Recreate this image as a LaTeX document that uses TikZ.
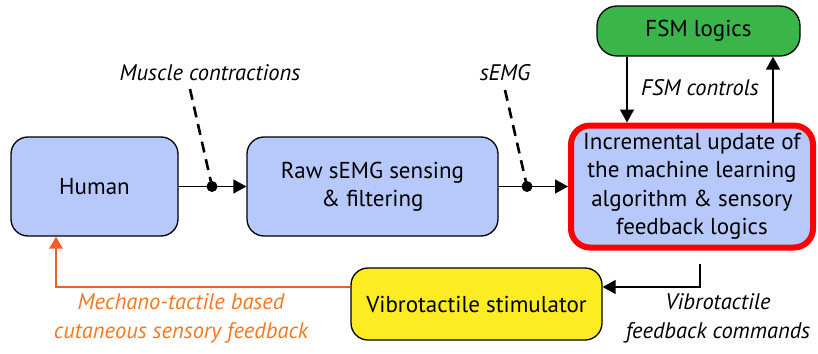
\documentclass[tikz,border=0pt]{standalone}
\usepackage{fontspec}
\setmainfont{PT Sans}
\usetikzlibrary{arrows.meta}
\definecolor{boxblue}{RGB}{183,201,250}
\definecolor{fsmgreen}{RGB}{58,181,74}
\definecolor{stimyellow}{RGB}{252,236,33}
\definecolor{fbred}{RGB}{255,0,0}
\definecolor{fborange}{RGB}{240,95,40}
\definecolor{txtorange}{RGB}{246,120,30}
\tikzset{
	blockbox/.style={draw=black, line width=1.3pt, rounded corners=17pt, inner sep=0pt, align=center,
		font=\fontsize{23}{28.5}\selectfont},
	sigtext/.style={font=\fontsize{22.5}{28.5}\selectfont\itshape, align=center, inner sep=0pt},
	arr/.style={line width=1.4pt, -{Triangle[length=13pt,width=14pt]}},
	sigdash/.style={line width=2.6pt, dash pattern=on 11pt off 7pt}
}
\begin{document}
\begin{tikzpicture}[x=1pt, y=-1pt]
		\useasboundingbox (0,0) rectangle (818,353);
		
		%Kaesten
		\node[blockbox, fill=boxblue, minimum width=167pt, minimum height=99pt] (human) at (94.5,186.5) {Human};
		\node[blockbox, fill=boxblue, minimum width=251pt, minimum height=99pt] (raw) at (372.5,186.5) {Raw sEMG sensing\\\& filtering};
		\node[blockbox, fill=boxblue, draw=fbred, line width=6pt, rounded corners=19pt, minimum width=242pt, minimum height=122pt] (upd) at (692,186.5)
			{Incremental update of\\the machine learning\\algorithm \& sensory\\feedback logics};
		\node[blockbox, fill=fsmgreen, rounded corners=20pt, minimum width=203pt, minimum height=50pt] (fsm) at (698.5,31) {FSM logics};
		\node[blockbox, fill=stimyellow, minimum width=251pt, minimum height=72pt] (vib) at (476.5,304) {Vibrotactile stimulator};
		
		%Beschriftungen
		\node[sigtext] (muscle) at (210,73) {Muscle contractions};
		\node[sigtext] (semg) at (505,73) {sEMG};
		\node[sigtext] (fsmctl) at (700,88) {FSM controls};
		\node[sigtext] (vibcmd) at (718,318.5) {Vibrotactile\\feedback commands};
		\node[sigtext, text=txtorange] (mech) at (181,318.5) {Mechano-tactile based\\cutaneous sensory feedback};
		
		%Hilfspunkte
		\coordinate (dotA) at (212,186.5);
		\coordinate (dotB) at (527,186.5);
		\coordinate (fsmdown) at (627,0);
		\coordinate (fsmup) at (773,0);
		\coordinate (cmdx) at (700,0);
		\coordinate (fbline) at (0,287);
		\coordinate (humanx) at (56,0);
		
		%Pfeile
		\draw[arr] (human) -- (raw);
		\draw[arr] (raw) -- (upd);
		\fill (dotA) circle (5.5pt);
		\fill (dotB) circle (5.5pt);
		\draw[sigdash] (190,89) -- (dotA);
		\draw[sigdash] (505,90) -- (dotB);
		
		\draw[arr] (fsm.south -| fsmdown) -- (upd.north -| fsmdown);
		\draw[arr] (upd.north -| fsmup) -- (fsm.south -| fsmup);
		
		\draw[arr] ([yshift=-13pt]upd.south -| cmdx) |- (vib.east |- fbline);
		\draw[arr, draw=fborange, line width=2.8pt, -{Triangle[length=12pt,width=13pt]}, fborange] (vib.west |- fbline) -| (human.south -| humanx);
\end{tikzpicture}
\end{document}
